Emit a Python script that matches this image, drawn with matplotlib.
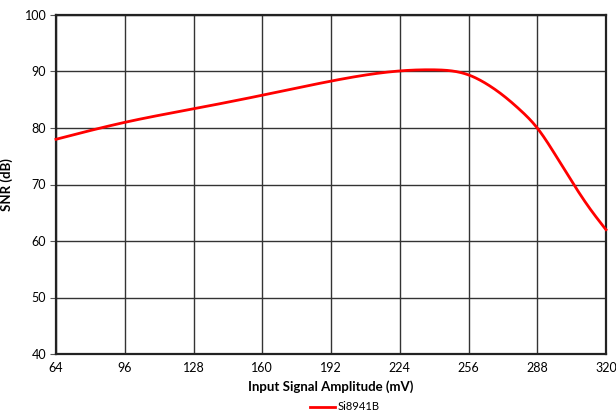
import matplotlib
matplotlib.use("Agg")
import matplotlib.pyplot as plt
import numpy as np

plt.rcParams['font.family'] = ['Lato', 'DejaVu Sans']

amplitude_mv = [64, 96, 128, 160, 192, 224, 240, 256, 264, 272, 280, 288, 296, 304, 312, 320]
snr_db = [78.0, 81.0, 83.4, 85.8, 88.3, 90.1, 90.3, 89.4, 87.9, 85.8, 83.2, 80.0, 75.5, 70.6, 66.0, 62.0]
x_ticks = [64, 96, 128, 160, 192, 224, 256, 288, 320]
y_ticks = [40, 50, 60, 70, 80, 90, 100]
series_name = "Si8941B"


def natural_spline(x, y, xq):
    x = np.asarray(x, float); y = np.asarray(y, float)
    n = len(x)
    h = np.diff(x)
    A = np.zeros((n, n)); b = np.zeros(n)
    A[0, 0] = 1; A[-1, -1] = 1
    for i in range(1, n - 1):
        A[i, i - 1] = h[i - 1]
        A[i, i] = 2 * (h[i - 1] + h[i])
        A[i, i + 1] = h[i]
        b[i] = 6 * ((y[i + 1] - y[i]) / h[i] - (y[i] - y[i - 1]) / h[i - 1])
    M = np.linalg.solve(A, b)
    idx = np.clip(np.searchsorted(x, xq) - 1, 0, n - 2)
    x0, x1 = x[idx], x[idx + 1]
    hh = x1 - x0
    t0 = x1 - xq; t1 = xq - x0
    return (M[idx] * t0**3 / (6 * hh) + M[idx + 1] * t1**3 / (6 * hh)
            + (y[idx] / hh - M[idx] * hh / 6) * t0
            + (y[idx + 1] / hh - M[idx + 1] * hh / 6) * t1)


fig = plt.figure(figsize=(6.16, 4.12), dpi=100)
ax = fig.add_axes([56/616, 1-354/412, 550/616, 339/412])

xq = np.linspace(amplitude_mv[0], amplitude_mv[-1], 600)
ax.plot(xq, natural_spline(amplitude_mv, snr_db, xq), color='#ff0000', lw=2.0,
        label=series_name, clip_on=False, zorder=3)

ax.set_xlim(64, 320)
ax.set_ylim(40, 100)
ax.set_xticks(x_ticks)
ax.set_yticks(y_ticks)
ax.grid(True, color='#333333', lw=1.0)
for s in ax.spines.values():
    s.set_color('#222222'); s.set_linewidth(1.6)
ax.tick_params(axis='both', labelsize=9, length=4, color='#555555', pad=3)
ax.tick_params(axis='x', length=0, pad=6)
ax.set_xlabel("Input Signal Amplitude (mV)", fontsize=9.5, fontweight='bold', labelpad=4)
ax.set_ylabel("SNR (dB)", fontsize=9.5, fontweight='bold', labelpad=8)
fig.legend(loc='center', bbox_to_anchor=(345/616, 1-407/412), frameon=False, fontsize=8,
           handlelength=2.2, handletextpad=0.3)

fig.savefig("out.png", dpi=100)
